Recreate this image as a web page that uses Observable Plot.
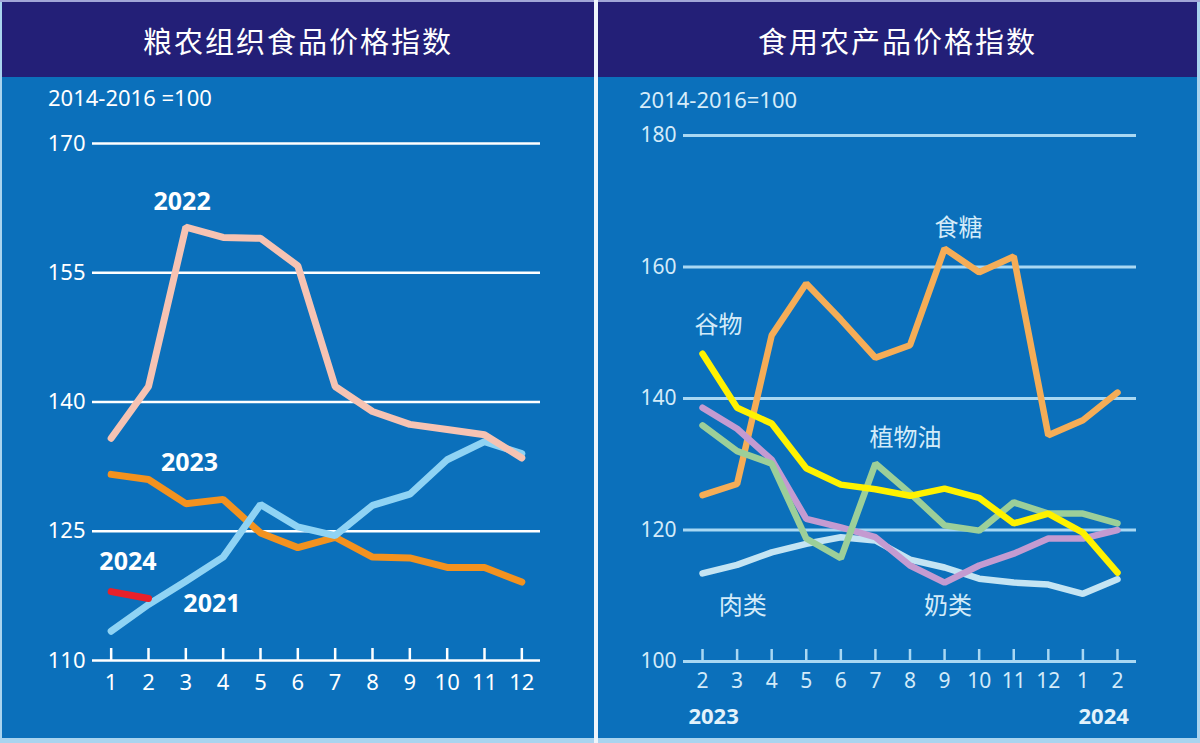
<!DOCTYPE html>
<html>
<head>
<meta charset="utf-8">
<script src="https://cdn.jsdelivr.net/npm/d3@7"></script>
<script src="https://cdn.jsdelivr.net/npm/@observablehq/plot@0.6"></script>
<style>
  html, body { margin: 0; padding: 0; background: #ffffff; }
  #page { position: relative; width: 1200px; height: 743px; background: #a9d4ef; overflow: hidden;
          font-family: "Noto Sans", "Noto Sans CJK SC", sans-serif; }
  #topline { position: absolute; left: 0; top: 0; width: 1200px; height: 2px; background: #a2a6d8; }
  #gap { position: absolute; left: 594px; top: 0; width: 4px; height: 743px; background: #eef5fb; }
  .panel { position: absolute; top: 2px; height: 736px; background: #0b70bb; }
  .title { position: absolute; left: 0; top: 0; width: 100%; height: 75px; background: #231f77;
           color: #ffffff; font-family: "Noto Sans CJK SC", sans-serif; font-size: 29px; font-weight: 400;
           letter-spacing: 2px; display: flex; align-items: center; justify-content: center; }
  .sub { position: absolute; font-size: 22px; color: #ffffff; white-space: nowrap; line-height: 1; }
  .chart { position: absolute; left: 0; top: 75px; }
  .chart svg { overflow: visible; }
</style>
</head>
<body>
<div id="page">
  <div id="topline"></div>
  <div id="gap"></div>
  <div class="panel" id="pl" style="left:2px;width:592px;">
    <div class="title">粮农组织食品价格指数</div>
    <div class="sub" style="left:46px;top:84px;">2014-2016 =100</div>
    <div class="chart" id="chartL"></div>
  </div>
  <div class="panel" id="pr" style="left:598px;width:599px;">
    <div class="title">食用农产品价格指数</div>
    <div class="sub" style="left:41px;top:86px;color:#d6ecf9;">2014-2016=100</div>
    <div class="chart" id="chartR"></div>
  </div>
</div>
<script>
// ---------- Left panel data: FAO Food Price Index by year ----------
const monthsL = [1, 2, 3, 4, 5, 6, 7, 8, 9, 10, 11, 12];
const ticksL = [110, 125, 140, 155, 170];
const fpi2021 = [113.4, 116.5, 119.2, 122.0, 128.1, 125.5, 124.5, 128.0, 129.3, 133.3, 135.4, 134.0];
const fpi2022 = [135.8, 141.8, 160.3, 159.1, 159.0, 155.8, 141.8, 138.9, 137.4, 136.8, 136.2, 133.5];
const fpi2023 = [131.6, 131.0, 128.2, 128.7, 124.8, 123.1, 124.3, 122.0, 121.9, 120.8, 120.8, 119.1];
const fpi2024 = [118.0, 117.2];
const yearLabels = ["2021", "2022", "2023", "2024"];
const yearColors = ["#8fd3f4", "#f6c3b3", "#f3921f", "#e8202a"];

// ---------- Right panel data: commodity sub-indices, Feb 2023 – Feb 2024 ----------
const monthLabelsR = ["2", "3", "4", "5", "6", "7", "8", "9", "10", "11", "12", "1", "2"];
const ticksR = [100, 120, 140, 160, 180];
const sugar   = [125.3, 127.0, 149.6, 157.5, 152.0, 146.2, 148.1, 162.8, 159.2, 161.6, 134.4, 136.7, 140.9];
const cereals = [146.8, 138.6, 136.2, 129.4, 126.9, 126.2, 125.2, 126.3, 124.9, 121.0, 122.5, 119.6, 113.5];
const meat    = [113.4, 114.7, 116.6, 117.9, 118.9, 118.4, 115.5, 114.3, 112.6, 112.0, 111.7, 110.3, 112.5];
const dairy   = [138.6, 135.4, 130.7, 121.7, 120.4, 118.9, 114.6, 112.0, 114.6, 116.4, 118.7, 118.7, 120.0];
const vegOil  = [135.9, 132.0, 130.1, 118.7, 115.7, 130.1, 125.6, 120.7, 119.9, 124.2, 122.5, 122.5, 121.0];
const commodityNames  = ["食糖", "肉类", "奶类", "植物油", "谷物"];
const commodityColors = ["#f5ad57", "#c4e4f3", "#c49bd1", "#9ccf99", "#fff200"];

// Build long tables
const yearSeries = [fpi2021, fpi2022, fpi2023, fpi2024];
const drawOrderL = [2, 0, 1, 3]; // 2023, 2021, 2022, 2024
const rowsL = [];
drawOrderL.forEach(i => yearSeries[i].forEach((v, j) => rowsL.push({series: yearLabels[i], month: monthsL[j], value: v})));

const commoditySeries = [sugar, meat, dairy, vegOil, cereals];
const rowsR = [];
commoditySeries.forEach((s, i) => s.forEach((v, j) => rowsR.push({series: commodityNames[i], idx: j, value: v})));

// Annotation positions (in data units)
const labelsL = [
  {text: "2022", month: 2.9, value: 163.2},
  {text: "2023", month: 3.1, value: 132.9},
  {text: "2024", month: 1.45, value: 121.4},
  {text: "2021", month: 3.7, value: 116.6}
];
const labelsR = [
  {text: "食糖", idx: 7.4, value: 165.9},
  {text: "谷物", idx: 0.46, value: 151.1},
  {text: "植物油", idx: 5.87, value: 133.9},
  {text: "肉类", idx: 1.16, value: 108.4},
  {text: "奶类", idx: 7.1, value: 108.4}
];
const yearAxisR = [
  {text: "2023", idx: 0.32, value: 91.6},
  {text: "2024", idx: 11.6, value: 91.6}
];

const numFont = "Noto Sans, sans-serif";

// ---------- Left chart ----------
const HL = 661, mTL = 66, mBL = 78;
const chartL = Plot.plot({
  width: 592, height: HL,
  marginTop: mTL, marginBottom: mBL, marginLeft: 90, marginRight: 54,
  style: {background: "transparent", color: "#ffffff", fontFamily: numFont, overflow: "visible"},
  x: {domain: [0.5, 12.5]},
  y: {domain: [110, 170]},
  color: {domain: yearLabels, range: yearColors},
  marks: [
    Plot.ruleY(ticksL, {stroke: "#ffffff", strokeWidth: 2.5}),
    Plot.tickX(monthsL, {x: d => d, stroke: "#ffffff", strokeWidth: 2.5, insetTop: (HL - mTL - mBL) - 12}),
    Plot.axisY(ticksL, {tickSize: 0, tickPadding: 7, fontSize: 22, fill: "#ffffff", label: null}),
    Plot.axisX(monthsL, {tickSize: 0, tickPadding: 14, fontSize: 22, fill: "#ffffff", label: null}),
    Plot.line(rowsL, {x: "month", y: "value", z: "series", stroke: "series", strokeWidth: 7,
                      strokeLinejoin: "miter", strokeLinecap: "round", sort: null}),
    Plot.text(labelsL, {x: "month", y: "value", text: "text", fill: "#ffffff", fontSize: 25,
                        fontWeight: "bold", fontFamily: "Open Sans, sans-serif"})
  ]
});
document.getElementById("chartL").appendChild(chartL);

// ---------- Right chart ----------
const HR = 661, mTR = 58, mBR = 77;
const lightBlue = "#a9d8f3";
const idxs = monthLabelsR.map((d, i) => i);
const chartR = Plot.plot({
  width: 599, height: HR,
  marginTop: mTR, marginBottom: mBR, marginLeft: 85, marginRight: 61,
  style: {background: "transparent", color: "#d3ebf9", fontFamily: numFont, overflow: "visible"},
  x: {domain: [-0.55, 12.55]},
  y: {domain: [100, 180]},
  color: {domain: commodityNames, range: commodityColors},
  marks: [
    Plot.ruleY(ticksR, {stroke: lightBlue, strokeWidth: 3}),
    Plot.tickX(idxs, {x: d => d, stroke: lightBlue, strokeWidth: 2.5, insetTop: (HR - mTR - mBR) - 12}),
    Plot.axisY(ticksR, {tickSize: 0, tickPadding: 7, fontSize: 21, fill: "#d3ebf9", label: null}),
    Plot.axisX(idxs, {tickSize: 0, tickPadding: 12, fontSize: 21, fill: "#d3ebf9", label: null,
                      tickFormat: i => monthLabelsR[i]}),
    Plot.line(rowsR, {x: "idx", y: "value", z: "series", stroke: "series", strokeWidth: 6.5,
                      strokeLinejoin: "miter", strokeLinecap: "round", sort: null}),
    Plot.text(labelsR, {x: "idx", y: "value", text: "text", fill: "#d3ebf9", fontSize: 24,
                        fontFamily: "Noto Sans CJK SC, sans-serif"}),
    Plot.text(yearAxisR, {x: "idx", y: "value", text: "text", fill: "#e2f2fb", fontSize: 22,
                          fontWeight: "bold", fontFamily: "Open Sans, sans-serif"})
  ]
});
document.getElementById("chartR").appendChild(chartR);
</script>
</body>
</html>
